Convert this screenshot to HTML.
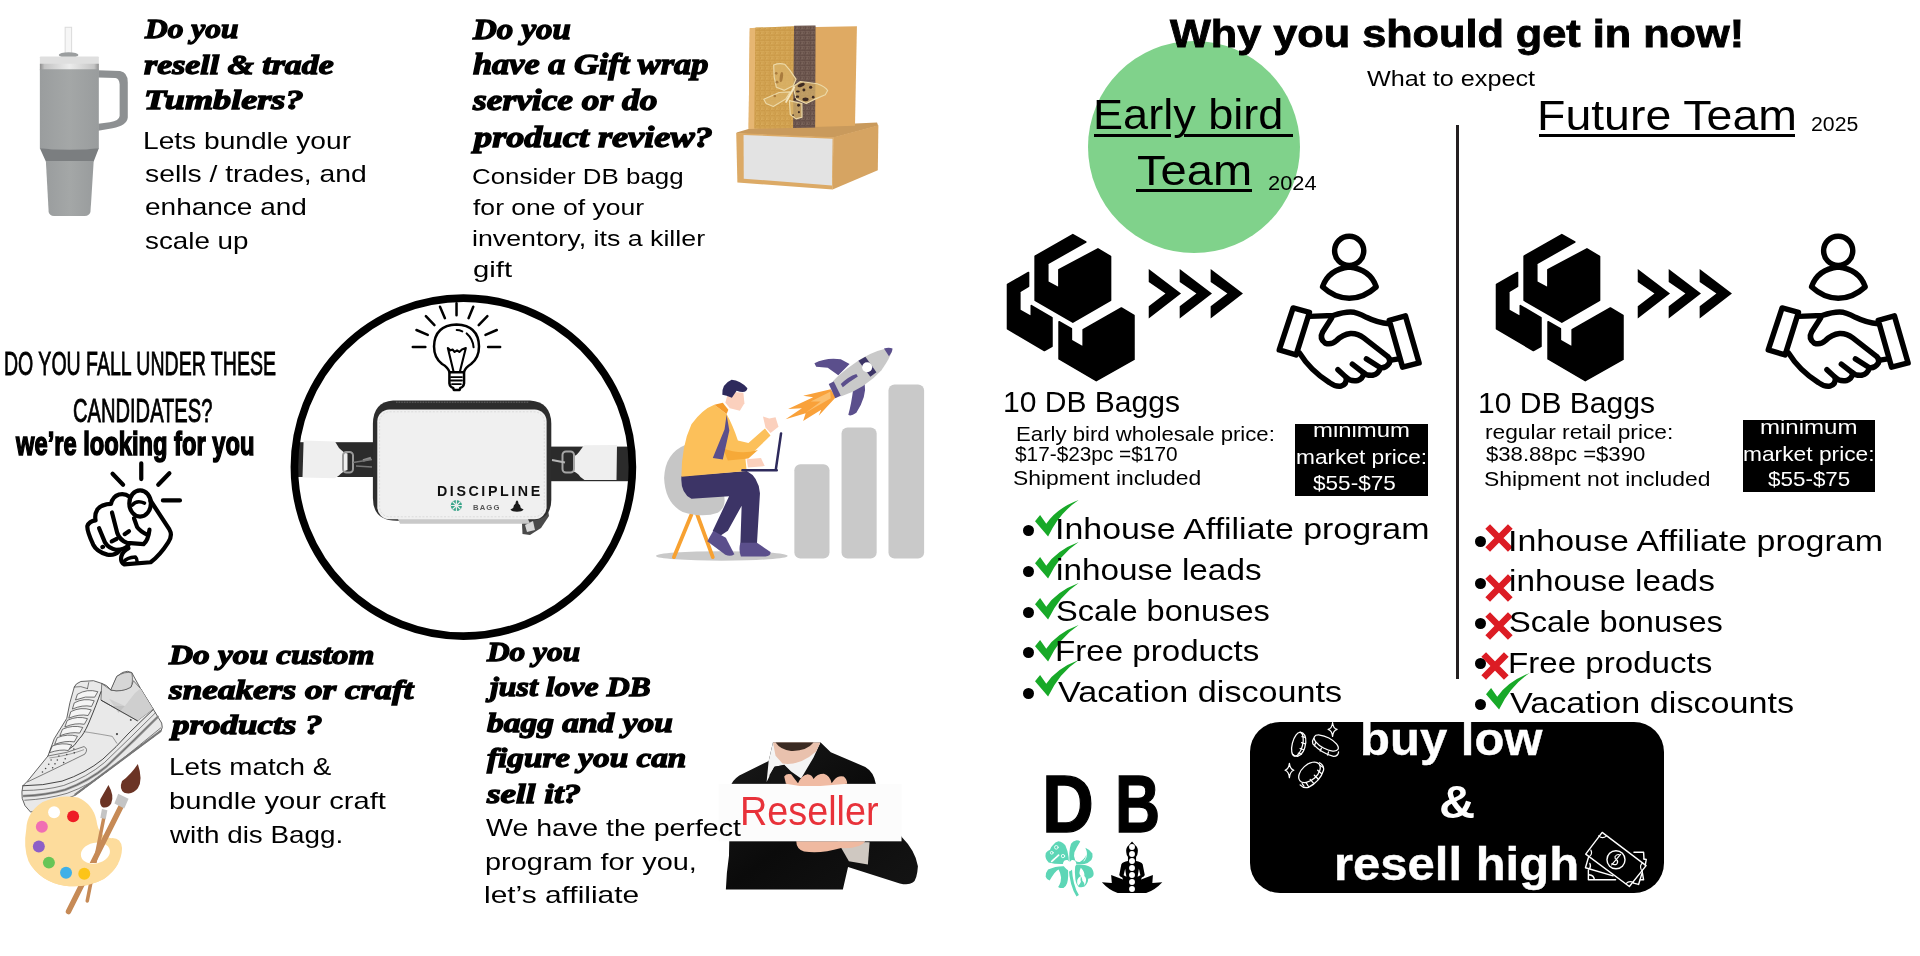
<!DOCTYPE html>
<html lang="en">
<head>
<meta charset="utf-8">
<title>DB Bagg – Why you should get in now</title>
<meta name="viewport" content="width=1920">
<style>
*{box-sizing:border-box}
html,body{margin:0;padding:0;background:#fff}
body{width:1920px;height:956px;overflow:hidden}
#page{will-change:transform;position:relative;width:1920px;height:956px;overflow:hidden;background:#fff;color:#000;font-family:"Liberation Sans",sans-serif}
h1,h2,h3,p,ul,li,figure{margin:0;padding:0;font-weight:inherit;font-size:inherit;list-style:none}
.t{position:absolute;display:block;white-space:pre;line-height:1;transform-origin:0 0}
.s{font-family:"Liberation Sans",sans-serif;font-weight:400}
.b{font-family:"Liberation Sans",sans-serif;font-weight:700}
.f{font-family:"Liberation Serif",serif;font-weight:700;font-style:italic}
.a{position:absolute;display:block}
svg{position:absolute;display:block;overflow:visible}
</style>
</head>
<body>
<main id="page">
<section class="left" aria-label="Candidates">
<article><svg style="left:30px;top:20px;width:110px;height:205px" viewBox="0 0 513 956" role="img" aria-label="tumbler">
<defs><linearGradient id="tg" x1="0" x2="1"><stop offset="0" stop-color="#9a9d9e"/><stop offset=".5" stop-color="#a4a7a7"/><stop offset="1" stop-color="#999c9d"/></linearGradient>
<linearGradient id="tl" x1="0" x2="1"><stop offset="0" stop-color="#8e8e8e"/><stop offset=".08" stop-color="#c4c4c4"/><stop offset=".5" stop-color="#ececec"/><stop offset=".92" stop-color="#c4c4c4"/><stop offset="1" stop-color="#8e8e8e"/></linearGradient></defs>
<rect x="164" y="34" width="30" height="130" fill="#f6f6f6" stroke="#dcdcdc" stroke-width="5"/>
<path d="M318 234 L420 238 Q456 244 456 290 V455 Q452 492 385 505 L318 516 V484 L372 477 Q416 470 418 448 V300 Q416 272 398 270 L318 268 Z" fill="#8d9092"/>
<ellipse cx="180" cy="163" rx="46" ry="13" fill="#9b9e9f"/>
<rect x="46" y="170" width="275" height="40" rx="4" fill="#dfdfdf"/>
<rect x="46" y="204" width="275" height="30" fill="url(#tl)"/>
<path d="M46 230 H321 V600 Q183 614 46 600 Z" fill="url(#tg)"/>
<path d="M46 598 Q183 612 321 598 L297 660 H74 Z" fill="#7b7e80"/>
<path d="M74 658 H297 L282 895 Q278 912 255 914 H112 Q90 912 87 895 Z" fill="url(#tg)"/>
</svg>
<h2 class="g g-h1"><span class="t f" style="left:145.12px;top:15.25px;font-size:28px;transform:scaleX(1.1235);-webkit-text-stroke:1.3px #000;">Do you</span><span class="t f" style="left:144.21px;top:50.85px;font-size:28px;transform:scaleX(1.2075);-webkit-text-stroke:1.3px #000;">resell &amp; trade</span><span class="t f" style="left:143.71px;top:85.85px;font-size:28px;transform:scaleX(1.2927);-webkit-text-stroke:1.3px #000;">Tumblers?</span></h2><p class="g g-p1"><span class="t s" style="left:143.33px;top:129px;font-size:24px;transform:scaleX(1.1723);">Lets bundle your</span><span class="t s" style="left:144.5px;top:162px;font-size:24px;transform:scaleX(1.1791);">sells / trades, and</span><span class="t s" style="left:144.5px;top:195.3px;font-size:24px;transform:scaleX(1.1667);">enhance and</span><span class="t s" style="left:144.5px;top:228.75px;font-size:24px;transform:scaleX(1.1573);">scale up</span></p></article>
<article><svg style="left:725px;top:15px;width:165px;height:185px" viewBox="0 0 853 956" role="img" aria-label="gift boxes">
<defs>
<pattern id="gp" width="26" height="26" patternUnits="userSpaceOnUse"><path d="M0 6 H20 V20 H6 V12 H14 M0 26 L13 13" fill="none" stroke="#e0b565" stroke-width="2.4"/></pattern>
<pattern id="bp" width="26" height="26" patternUnits="userSpaceOnUse"><path d="M0 6 H20 V20 H6 V12 H14 M0 26 L13 13" fill="none" stroke="#8d766c" stroke-width="2.4"/></pattern>
</defs>
<path d="M60 607 L130 586 L786 555 L792 572 L560 634 L60 613 Z" fill="#c99a5c"/>
<path d="M560 632 L793 570 L790 802 L556 902 Z" fill="#d6a462"/>
<path d="M58 610 L562 632 L557 902 L64 866 Z" fill="#dcaa66"/>
<path d="M96 620 L556 640 L553 881 L97 846 Z" fill="#e3e3e3"/>
<path d="M128 68 L682 58 L672 572 L122 588 Z" fill="#dfaa63"/>
<path d="M128 68 L157 66 L152 586 L122 588 Z" fill="#e6b672"/>
<path d="M157 65 L357 58 L352 584 L152 587 Z" fill="#cb9a48"/>
<path d="M157 65 L357 58 L352 584 L152 587 Z" fill="url(#gp)"/>
<path d="M357 56 L468 54 L466 581 L352 584 Z" fill="#614b44"/>
<path d="M357 56 L468 54 L466 581 L352 584 Z" fill="url(#bp)"/>
<g transform="translate(155.1,206.8) scale(0.3785)">
<g fill="#d9b36a" fill-opacity=".75" stroke="#ecd9a8" stroke-width="16" stroke-linejoin="round">
<path d="M255 135 Q330 105 405 125 L475 205 L560 330 L522 420 L400 482 L292 440 L262 300 Z"/>
<path d="M120 605 L330 512 L482 502 L420 602 L250 702 L152 662 Z"/>
<path d="M520 432 L620 362 L700 372 L850 392 Q960 430 992 485 L960 542 L820 602 L700 662 L562 602 Z"/>
<path d="M470 622 L640 662 L642 850 L560 872 L482 812 Z"/>
</g>
<g fill="#3d2a22"><ellipse cx="630" cy="410" rx="52" ry="24" transform="rotate(-20 630 410)"/><circle cx="760" cy="440" r="22"/><circle cx="668" cy="478" r="20"/><ellipse cx="585" cy="498" rx="26" ry="14"/><ellipse cx="580" cy="568" rx="24" ry="16"/><ellipse cx="690" cy="605" rx="42" ry="26"/><circle cx="795" cy="575" r="18"/><circle cx="545" cy="605" r="16"/><circle cx="595" cy="685" r="20"/><circle cx="600" cy="780" r="14"/><circle cx="520" cy="820" r="12"/></g>
<g fill="#8a5a24" fill-opacity=".6"><ellipse cx="360" cy="300" rx="22" ry="70" transform="rotate(8 360 300)"/><circle cx="300" cy="370" r="20"/><circle cx="290" cy="250" r="18"/><circle cx="270" cy="560" r="18"/></g>
<path d="M535 440 L425 640" stroke="#f4e6c0" stroke-width="26" stroke-linecap="round" fill="none"/>
</g>
</svg>
<h2 class="g g-h2"><span class="t f" style="left:473.15px;top:15.6px;font-size:28.6px;transform:scaleX(1.1512);-webkit-text-stroke:1.3px #000;">Do you</span><span class="t f" style="left:473.2px;top:51.35px;font-size:28.6px;transform:scaleX(1.1995);-webkit-text-stroke:1.3px #000;">have a Gift wrap</span><span class="t f" style="left:473.24px;top:87.35px;font-size:28.6px;transform:scaleX(1.2351);-webkit-text-stroke:1.3px #000;">service or do</span><span class="t f" style="left:474.3px;top:123.85px;font-size:28.6px;transform:scaleX(1.2682);-webkit-text-stroke:1.3px #000;">product review?</span></h2><p class="g g-p2"><span class="t s" style="left:471.85px;top:166.25px;font-size:22.5px;transform:scaleX(1.1511);">Consider DB bagg</span><span class="t s" style="left:473px;top:197.2px;font-size:22.5px;transform:scaleX(1.1793);">for one of your</span><span class="t s" style="left:471.81px;top:227.8px;font-size:22.5px;transform:scaleX(1.1897);">inventory, its a killer</span><span class="t s" style="left:473px;top:259.4px;font-size:22.5px;transform:scaleX(1.3000);">gift</span></p></article>
<header><h2 class="g g-c1"><span class="t s" style="left:4.43px;top:345.55px;font-size:34px;transform:scaleX(0.5742);-webkit-text-stroke:0.9px #000;">DO YOU FALL UNDER THESE</span><span class="t s" style="left:73.41px;top:393.05px;font-size:34px;transform:scaleX(0.5919);-webkit-text-stroke:0.9px #000;">CANDIDATES?</span></h2><p class="g g-c2"><span class="t b" style="left:16.2px;top:426.2px;font-size:34px;transform:scaleX(0.6974);-webkit-text-stroke:1.6px #000;">we’re looking for you</span></p><svg style="left:78px;top:458px;width:112px;height:112px" viewBox="0 0 956 956" role="img" aria-label="pointing at you"><g fill="none" stroke="#000" stroke-width="36" stroke-linecap="round" stroke-linejoin="round">
<path d="M540 45 V180 M295 135 L385 228 M780 130 L685 228 M725 362 H870"/>
<ellipse cx="530" cy="388" rx="92" ry="112"/>
<path d="M463 402 Q500 355 568 385" stroke-width="30"/>
<path d="M620 365 L780 610 Q810 660 770 720 Q700 830 620 890 L395 908 Q360 890 370 840 Q385 790 430 770"/>
<path d="M438 330 Q400 300 350 312 Q295 330 282 392 Q200 395 165 440 Q140 480 150 532 Q95 540 80 580 Q75 620 130 740 Q160 800 250 825 Q310 835 350 795"/>
<path d="M290 465 L335 640 Q355 700 420 725 L560 735 Q600 700 610 612"/>
<path d="M180 600 L230 720 Q260 770 330 785 Q400 780 430 745"/>
<path d="M478 515 L505 590 Q530 625 590 655"/>
<path d="M288 712 L330 690 M398 650 L435 625 M208 760 L214 758"/>
<path d="M392 885 Q415 850 490 845 Q505 860 505 885" stroke-width="30"/>
</g></svg>
</header>
<figure><svg style="left:285px;top:290px;width:360px;height:355px" viewBox="285 290 360 355" role="img" aria-label="Discipline bagg">
<defs><clipPath id="cc"><circle cx="463.4" cy="467.1" r="170"/></clipPath></defs>
<g clip-path="url(#cc)">
<rect x="288" y="442.2" width="90" height="34.8" fill="#2b2b2b"/>
<rect x="548" y="446.6" width="92" height="34.6" fill="#2b2b2b"/>
<path d="M303.6 440.4 L335 441.5 L339 448 Q344 453 347.5 453.5 L347.5 470 Q343 471 339 475.5 L335 478.2 L302.5 477.6 Z" fill="#efefef"/>
<path d="M617 445 L584 445.2 L580.5 450 Q577 455.5 573 456.5 L573 471.5 Q577 472 580.5 477 L584.5 480 L616.5 480 Z" fill="#efefef"/>
<path d="M363 460.5 L371 458" stroke="#8a8a8a" stroke-width="2.4" fill="none"/>
<rect x="343" y="452" width="10" height="20.5" rx="3.5" fill="none" stroke="#9a9a9a" stroke-width="2"/>
<path d="M353 462.5 L372 459.5 M356 466 L372 467" stroke="#777" stroke-width="1.6" fill="none"/>
<rect x="562.5" y="451.5" width="11.5" height="21" rx="3.5" fill="none" stroke="#a5a5a5" stroke-width="2"/>
<path d="M552 460 L565 462.5" stroke="#b5b5b5" stroke-width="2" fill="none"/>
</g>
<path d="M527 513 L548 510 L549 516 L541 528 L530 535 L522.5 534 L522 524 Z" fill="#4a4a4a"/>
<path d="M525 525 L533 521 L535 530 L527 532 Z" fill="#d9d9d9"/>
<path d="M393 400.4 H530 Q551.3 402 551.3 424 V500 Q551.3 520.8 528 520.8 H397 Q372.9 520.8 372.9 498 V424 Q372.9 402 393 400.4 Z" fill="#2d2d2d"/>
<path d="M398 519 H528 L530 523.8 H400 Z" fill="#c9c9c9"/>
<rect x="377.3" y="409.6" width="169.3" height="109.6" rx="12" fill="#f0f0f0"/>
<rect x="379.6" y="411.8" width="164.7" height="105" rx="10" fill="none" stroke="#d2d2d2" stroke-width="0.7" stroke-dasharray="2 1.6"/>
<path d="M396 402.2 H529" stroke="#777" stroke-width="1" stroke-dasharray="0.8 0.8" fill="none"/>
<g fill="#3aa58a"><circle cx="456.4" cy="505.5" r="5.6"/></g>
<g stroke="#ededed" stroke-width="1.1" fill="none"><path d="M452.5 501.5 L460.5 509.5 M460.5 501.5 L452.5 509.5 M456.4 500 V511 M451 505.5 H462"/></g>
<path d="M517 500.3 Q518.6 501.5 518.4 503.5 Q520.5 504.5 520.8 508 L523.6 509.6 Q522 511.8 517 511.8 Q512 511.8 510.4 509.6 L513.2 508 Q513.5 504.5 515.6 503.5 Q515.4 501.5 517 500.3 Z" fill="#1b1b1b"/>
<circle cx="463.4" cy="467.1" r="169" fill="none" stroke="#000" stroke-width="7.6"/>
</svg>
<p class="g g-disc"><span class="t b" style="left:437.4px;top:483.8px;font-size:14.4px;transform:scaleX(0.9904);color:#111;letter-spacing:2.6px;">DISCIPLINE</span></p><p class="g g-bagg"><span class="t b" style="left:472.9px;top:504.2px;font-size:8px;transform:scaleX(0.9571);color:#555;letter-spacing:1.2px;">BAGG</span></p><svg style="left:406px;top:296px;width:100px;height:100px" viewBox="0 0 956 956" role="img" aria-label="idea"><g fill="none" stroke="#000" stroke-width="24" stroke-linecap="round" stroke-linejoin="round">
<path d="M65 487 H185 M100 325 L208 372 M190 192 L272 278 M325 103 L372 212 M483 70 V185 M643 103 L598 212 M778 192 L695 278 M868 325 L760 372 M785 487 H900"/>
<path d="M418 730 Q400 680 345 650 Q268 590 268 482 Q272 280 483 272 Q694 280 698 482 Q698 590 622 650 Q568 682 552 730"/>
<path d="M415 730 H555 V835 Q550 870 520 878 L512 898 H458 L450 878 Q420 870 415 835 Z"/>
<path d="M430 775 H535 M430 808 H535 M440 842 H525" stroke-width="18"/>
<path d="M455 725 L400 497 L425 520 L445 512 L465 535 L488 520 L510 535 L535 512 L572 497 L515 725" stroke-width="20"/>
<path d="M485 325 Q510 325 538 338 M580 358 Q640 410 646 490" stroke-width="20"/>
</g></svg>
</figure>
<svg style="left:640px;top:330px;width:320px;height:240px" viewBox="0 0 1275 956" role="img" aria-label="growth illustration">
<g fill="#c9c9c9"><rect x="615" y="535" width="140" height="375" rx="24"/><rect x="803" y="388" width="140" height="522" rx="24"/><rect x="990" y="217" width="142" height="693" rx="24"/>
<ellipse cx="326" cy="900" rx="262" ry="19"/></g>
<path d="M205 735 L135 905 M228 735 L290 905" stroke="#f7a131" stroke-width="15" stroke-linecap="round" fill="none"/>
<path d="M180 458 Q100 490 96 590 Q100 690 170 725 Q250 750 310 728 Q345 705 335 660 L180 600 Z" fill="#c6c6c6"/>
<path d="M165 582 L425 562 Q472 585 478 650 L466 852 H400 L405 700 L350 800 L302 832 L290 800 L355 662 L205 672 Q160 650 165 582 Z" fill="#3c3466"/>
<path d="M292 800 L342 828 L376 893 Q360 905 340 895 L268 842 Z" fill="#5b4f8c"/>
<path d="M400 848 H466 L520 884 Q522 902 500 902 H402 Q392 875 400 848 Z" fill="#5b4f8c"/>
<path d="M296 298 Q250 315 205 375 Q165 460 165 585 L425 562 L420 512 Q450 490 520 420 L498 392 L432 450 L390 440 Q370 380 345 335 Z" fill="#fcc05a"/>
<path d="M330 470 Q400 500 470 478 L432 512 L350 520 Z" fill="#f6a938"/>
<path d="M296 298 L345 335 L352 318 L330 290 Z" fill="#f49b2c"/>
<path d="M345 338 L356 400 L330 516 L290 510 L337 395 Z" fill="#5b4f8c"/>
<path d="M352 245 L412 250 L416 292 L398 322 L358 312 L340 290 Z" fill="#fbd0bd"/>
<path d="M328 258 Q325 215 365 198 Q400 200 428 232 Q425 255 385 242 L366 270 L345 262 Z" fill="#2e2a5c"/>
<path d="M490 345 L515 352 L540 348 L552 385 L520 410 L500 388 Z" fill="#fbd0bd"/>
<path d="M425 515 L482 510 L497 542 L430 548 Z" fill="#fbd0bd"/>
<path d="M562 412 L541 557 M408 559 H545" stroke="#2e2a5c" stroke-width="10" stroke-linecap="round" fill="none"/>
<path d="M760 236 L650 262 L690 268 L590 315 L645 312 L580 355 L660 332 L650 362 L722 318 L712 342 L780 268 Z" fill="#f9a13a"/>
<path d="M758 246 L680 285 L720 285 L660 330 L760 272 Z" fill="#fbbf6e"/>
<path d="M695 132 Q740 108 800 116 L835 135 L790 180 L748 150 L702 146 Z" fill="#5b4f8c"/>
<path d="M895 212 Q905 262 862 330 Q840 345 830 338 Q842 295 850 232 Z" fill="#5b4f8c"/>
<path d="M758 222 Q770 188 880 115 Q950 75 1000 72 Q1012 90 962 160 Q900 230 800 265 Z" fill="#c9c9c9"/>
<path d="M972 74 Q992 68 1006 74 Q1006 88 992 104 Z" fill="#5b4f8c"/>
<path d="M870 122 L898 106 L942 168 L918 186 Z" fill="#3c3466"/>
<circle cx="905" cy="148" r="20" fill="#fff"/>
<path d="M800 215 Q830 185 862 175 L868 185 Q835 205 808 228 Z" fill="#5b4f8c"/>
<path d="M752 215 L772 205 L800 262 L778 272 Z" fill="#5b4f8c"/>
</svg>

<article><svg style="left:15px;top:665px;width:155px;height:150px" viewBox="0 0 988 956" role="img" aria-label="sneaker">
<g stroke="#3a3a3a" stroke-width="5" stroke-linejoin="round" stroke-linecap="round">
<path d="M715 40 Q690 38 650 72 L612 160 Q585 125 555 118 L500 100 L420 105 Q385 118 378 140 L350 240 L330 340 L250 470 L210 580 L80 740 L50 770 Q40 810 46 850 Q55 900 100 938 L380 832 L930 422 Q945 400 935 370 L880 280 L800 150 L745 50 Z" fill="#e9e9e9"/>
<path d="M555 120 L612 160 Q680 175 740 140 L755 100 L800 150 L880 280 L780 355 L550 225 Z" fill="#dedede" stroke-width="4"/>
<path d="M612 160 Q680 175 738 142 Q755 110 745 50 Q700 38 650 72 Z" fill="#d6d6d6" stroke-width="4"/>
<path d="M600 215 L700 262 L765 178 L800 150 L880 280 L780 355 L650 290 Z" fill="#cfcfcf" stroke="none"/>
<path d="M630 262 L700 262 L660 305 Z" fill="#c2c2c2" stroke="none"/>
<path d="M550 225 L780 355" fill="none" stroke-width="6"/>
<path d="M50 770 Q180 770 300 740 Q450 690 560 600 Q650 520 720 440 L880 285" fill="none" stroke-width="6"/>
<path d="M50 800 Q190 800 310 768 Q460 715 570 622 L740 458 L895 305" fill="none" stroke-width="4"/>
<path d="M55 835 Q200 830 320 795 Q470 740 585 645 L760 478 L910 330" fill="none" stroke="#9a9a9a" stroke-width="16"/>
<path d="M55 835 Q200 830 320 795 Q470 740 585 645 L760 478 L910 330" fill="none" stroke-width="3.5"/>
<path d="M62 862 Q205 855 332 818 Q480 765 600 668 L930 400" fill="none" stroke-width="4"/>
<path d="M385 825 L932 418" fill="none" stroke="#777" stroke-width="14" stroke-dasharray="4 7"/>
<path d="M210 580 Q330 565 440 520 Q470 535 445 568 Q300 640 80 745" fill="none" stroke-width="4"/>
<path d="M222 592 Q335 578 438 540" fill="none" stroke-width="3" stroke-dasharray="6 5"/>
<path d="M440 425 Q540 440 620 455 L650 500" fill="none" stroke-width="3" stroke-dasharray="7 5"/>
<path d="M548 170 Q520 250 470 370 Q440 440 410 470 Q380 520 340 540" fill="none" stroke-width="6"/>
<path d="M470 112 L462 150 M378 140 Q420 130 462 150" fill="none" stroke-width="4"/>
<g fill="#f4f4f4" stroke-width="4.5">
<path d="M400 185 Q460 150 528 170 L508 205 Q450 195 388 222 Z"/>
<path d="M380 240 Q440 208 505 228 L488 264 Q430 252 368 280 Z"/>
<path d="M358 296 Q420 265 486 286 L466 322 Q410 310 345 338 Z"/>
<path d="M335 352 Q398 322 462 342 L442 378 Q386 366 320 394 Z"/>
<path d="M305 408 Q368 380 432 398 L412 434 Q356 424 288 450 Z"/>
<path d="M272 462 Q335 436 398 454 L378 490 Q322 480 255 505 Z"/>
<path d="M240 515 Q300 492 362 510 L340 545 Q290 535 222 558 Z"/>
</g>
</g>
<g fill="#444"><circle cx="375" cy="535" r="5"/><circle cx="378" cy="560" r="5"/><circle cx="330" cy="570" r="5"/><circle cx="320" cy="598" r="5"/><circle cx="280" cy="580" r="4.5"/><circle cx="270" cy="605" r="5"/><circle cx="255" cy="630" r="5"/><circle cx="230" cy="605" r="4.5"/><circle cx="215" cy="632" r="5"/><circle cx="240" cy="655" r="5"/><circle cx="195" cy="660" r="5"/><circle cx="175" cy="682" r="5"/><circle cx="310" cy="622" r="5"/><circle cx="650" cy="440" r="7"/><circle cx="738" cy="350" r="6"/></g>
</svg>
<svg style="left:10px;top:660px;width:170px;height:260px" viewBox="0 0 625 956" role="img" aria-label="sneaker and paint palette">
<path d="M60 620 Q62 560 120 522 Q185 492 250 506 Q305 530 318 590 Q325 650 372 655 Q408 652 412 692 Q410 760 345 805 Q280 840 200 830 Q110 815 68 740 Q48 690 60 620 Z" fill="#fddc9c"/>
<ellipse cx="314" cy="710" rx="54" ry="38" fill="#fff" transform="rotate(-12 314 710)"/>
<circle cx="162" cy="560" r="22" fill="#fff"/><circle cx="232" cy="575" r="22" fill="#ee1c25"/><circle cx="117" cy="613" r="22" fill="#f06eb3"/><circle cx="106" cy="686" r="22" fill="#8e5fc7"/><circle cx="143" cy="745" r="22" fill="#67c556"/><circle cx="206" cy="782" r="22" fill="#3fb0e8"/><circle cx="273" cy="786" r="22" fill="#fcc419"/>
<path d="M345 580 L284 886" stroke="#c68a56" stroke-width="13" stroke-linecap="round" fill="none"/>
<path d="M338 548 L358 552 L352 585 L332 581 Z" fill="#c4c4c4"/>
<path d="M362 460 Q385 500 372 528 Q362 545 342 542 Q328 535 332 512 Q345 490 362 460 Z" fill="#6b3425"/>
<path d="M410 535 L215 925" stroke="#c68a56" stroke-width="20" stroke-linecap="round" fill="none"/>
<path d="M398 492 L436 510 L420 546 L384 528 Z" fill="#c4c4c4"/>
<path d="M470 382 Q490 440 470 472 Q450 498 420 488 Q400 475 412 445 Q445 420 470 382 Z" fill="#6b3425"/>
<defs><clipPath id="lowpal"><rect x="0" y="746" width="625" height="100"/></clipPath></defs><g clip-path="url(#lowpal)"><path d="M60 620 Q62 560 120 522 Q185 492 250 506 Q305 530 318 590 Q325 650 372 655 Q408 652 412 692 Q410 760 345 805 Q280 840 200 830 Q110 815 68 740 Q48 690 60 620 Z" fill="#fddc9c"/>
<ellipse cx="314" cy="710" rx="54" ry="38" fill="#fff" transform="rotate(-12 314 710)"/>
<circle cx="162" cy="560" r="22" fill="#fff"/><circle cx="232" cy="575" r="22" fill="#ee1c25"/><circle cx="117" cy="613" r="22" fill="#f06eb3"/><circle cx="106" cy="686" r="22" fill="#8e5fc7"/><circle cx="143" cy="745" r="22" fill="#67c556"/><circle cx="206" cy="782" r="22" fill="#3fb0e8"/><circle cx="273" cy="786" r="22" fill="#fcc419"/>
</g>
</svg>
<h2 class="g g-h3"><span class="t f" style="left:169.29px;top:640.85px;font-size:28px;transform:scaleX(1.1891);-webkit-text-stroke:1.3px #000;">Do you custom</span><span class="t f" style="left:169.36px;top:675.95px;font-size:28px;transform:scaleX(1.2569);-webkit-text-stroke:1.3px #000;">sneakers or craft</span><span class="t f" style="left:171.54px;top:711.05px;font-size:28px;transform:scaleX(1.2476);-webkit-text-stroke:1.3px #000;">products ?</span></h2><p class="g g-p3"><span class="t s" style="left:168.84px;top:755px;font-size:24px;transform:scaleX(1.1583);">Lets match &amp;</span><span class="t s" style="left:168.79px;top:789.4px;font-size:24px;transform:scaleX(1.2135);">bundle your craft</span><span class="t s" style="left:170px;top:823.3px;font-size:24px;transform:scaleX(1.1588);">with dis Bagg.</span></p></article>
<article><svg style="left:710px;top:735px;width:220px;height:165px" viewBox="0 0 1275 956" role="img" aria-label="reseller sign">
<defs><linearGradient id="sg" x1="0" x2="1" y1="0" y2="1"><stop offset="0" stop-color="#1a1a1a"/><stop offset=".5" stop-color="#0b0b0b"/><stop offset="1" stop-color="#141414"/></linearGradient></defs>
<path d="M365 42 H640 L700 100 L900 185 Q950 215 960 280 L1110 590 Q1190 670 1205 760 Q1200 840 1175 855 Q1150 872 1100 860 L800 765 L770 895 H92 Q95 800 110 700 L118 300 Q130 262 170 235 L340 150 Z" fill="url(#sg)"/>
<path d="M365 44 H640 L600 130 L528 252 L470 212 L430 172 L372 186 L328 272 L340 150 Z" fill="#f4f4f4"/>
<path d="M365 44 H640 L615 95 Q520 180 420 165 L380 120 Z" fill="#e9c1ad"/>
<path d="M380 44 H600 Q560 95 470 92 Q410 88 380 44 Z" fill="#3a2a22"/>
<path d="M345 232 L375 182 L430 175 L476 226 L450 282 H350 Z" fill="#141414"/>
<path d="M740 618 L925 622 L915 750 L805 732 Z" fill="#cfc8c1"/>
<path d="M500 615 H900 Q870 660 760 655 Q640 690 545 675 Q500 660 500 615 Z" fill="#efb9a0"/>
<rect x="50" y="283" width="1060" height="333" fill="#fcfcfc"/>
<path d="M430 240 Q445 220 470 228 L510 280 Q530 235 565 228 Q590 230 600 255 Q620 225 660 225 Q695 235 705 280 L718 262 Q740 232 775 240 Q795 255 795 283 L640 296 H520 L440 283 Z" fill="#f0bba3"/>
</svg>
<p class="g g-res"><span class="t s" style="left:740.44px;top:791.1px;font-size:40.7px;transform:scaleX(0.9286);color:#e8323a;">Reseller</span></p><h2 class="g g-h4"><span class="t f" style="left:487.42px;top:637.75px;font-size:28px;transform:scaleX(1.1188);-webkit-text-stroke:1.3px #000;">Do you</span><span class="t f" style="left:489.68px;top:673.15px;font-size:28px;transform:scaleX(1.1361);-webkit-text-stroke:1.3px #000;">just love DB</span><span class="t f" style="left:487.19px;top:708.95px;font-size:28px;transform:scaleX(1.1943);-webkit-text-stroke:1.3px #000;">bagg and you</span><span class="t f" style="left:487.19px;top:744.35px;font-size:28px;transform:scaleX(1.1864);-webkit-text-stroke:1.3px #000;">figure you can</span><span class="t f" style="left:487.25px;top:779.85px;font-size:28px;transform:scaleX(1.2468);-webkit-text-stroke:1.3px #000;">sell it?</span></h2><p class="g g-p4"><span class="t s" style="left:485.7px;top:816.4px;font-size:24px;transform:scaleX(1.1893);">We have the perfect</span><span class="t s" style="left:484.5px;top:850px;font-size:24px;transform:scaleX(1.2029);">program for you,</span><span class="t s" style="left:484.45px;top:883px;font-size:24px;transform:scaleX(1.2463);">let’s affiliate</span></p></article>
</section>
<section class="right" aria-label="Why you should get in now">
<div class="a" style="left:1088px;top:40.5px;width:212px;height:212px;border-radius:50%;background:#80d28b"></div>

<h1 class="g g-title"><span class="t b" style="left:1169.84px;top:14.45px;font-size:39.5px;transform:scaleX(1.0946);-webkit-text-stroke:0.9px #000;">Why you should get in now!</span></h1><p class="g g-sub"><span class="t s" style="left:1367px;top:68.25px;font-size:22.5px;transform:scaleX(1.1200);">What to expect</span></p>
<div class="a" style="left:1456.2px;top:125px;width:2.6px;height:553.75px;background:#231f20"></div>
<div class="a" style="left:1094px;top:133.75px;width:76.6px;height:3.3px;background:#000"></div>
<div class="a" style="left:1184.2px;top:133.75px;width:108.8px;height:3.3px;background:#000"></div>
<div class="a" style="left:1135.5px;top:188.75px;width:116.5px;height:3.3px;background:#000"></div>
<div class="a" style="left:1539px;top:134px;width:256px;height:3.3px;background:#000"></div>

<article class="early"><h3 class="g g-eb"><span class="t s" style="left:1092.51px;top:93.75px;font-size:41.8px;transform:scaleX(1.0785);">Early bird</span><span class="t s" style="left:1137px;top:150px;font-size:41.8px;transform:scaleX(1.1262);">Team</span></h3><p class="g g-y24"><span class="t s" style="left:1267.69px;top:173px;font-size:20.7px;transform:scaleX(1.0556);">2024</span></p><svg style="left:1000px;top:228px;width:144px;height:160px" viewBox="0 0 860 956" role="img" aria-label="boxes"><g fill="#000" stroke="#000" stroke-width="10" stroke-linejoin="round">
<path d="M435 40 L512 84 L285 212 L285 322 L352 358 L352 250 L585 125 L660 170 L660 432 L435 562 L210 432 L210 168 Z"/>
<path d="M170 266 L170 348 L118 380 L118 492 L187 530 L187 464 L310 536 L310 706 L265 732 L45 602 L45 338 Z"/>
<path d="M353 560 L426 602 L426 672 L497 712 L497 608 L725 478 L800 522 L800 785 L575 912 L353 782 Z"/>
</g></svg><svg style="left:1140px;top:228px;width:144px;height:160px" viewBox="0 0 860 956" role="img" aria-label="arrows"><g fill="#000"><path d="M52 245 L245 392 L52 540 L52 468 L152 392 L52 322 Z"/><path d="M237 245 L430 392 L237 540 L237 468 L337 392 L237 322 Z"/><path d="M422 245 L615 392 L422 540 L422 468 L522 392 L422 322 Z"/></g></svg><svg style="left:1268px;top:228px;width:168px;height:168px" viewBox="0 0 956 956" role="img" aria-label="partner handshake"><g fill="none" stroke="#000" stroke-width="31" stroke-linejoin="round" stroke-linecap="round">
<circle cx="462" cy="130" r="83"/>
<path d="M310 335 Q345 235 462 222 Q582 235 616 335 Q545 400 462 400 Q380 400 310 335 Z"/>
<path d="M143 455 L236 480 L160 722 L64 694 Z"/>
<path d="M690 525 L782 500 L860 768 L766 792 Z"/>
<path d="M236 503 L370 498 Q430 478 470 478 Q505 478 560 508 Q625 540 690 545"/>
<path d="M362 512 L312 590 Q290 630 325 655 Q360 668 390 640 Q425 605 470 600 Q510 598 545 625 L680 730 Q700 750 690 770 Q670 800 640 795 Q630 830 595 838 Q560 840 545 825 Q540 860 510 868 Q470 875 445 850 Q450 890 415 900 Q385 905 350 880 Q240 810 180 712"/>
<path d="M398 806 L445 850"/>
<path d="M480 775 L545 825"/>
<path d="M560 745 L640 795"/>
<path d="M700 752 L745 745"/>
</g></svg><p class="g g-l10"><span class="t s" style="left:1003.47px;top:387.25px;font-size:29.6px;transform:scaleX(1.0145);">10 DB Baggs</span></p><p class="g g-lp"><span class="t s" style="left:1015.88px;top:424.75px;font-size:19.8px;transform:scaleX(1.1212);">Early bird wholesale price:</span><span class="t s" style="left:1015px;top:445.25px;font-size:19.8px;transform:scaleX(1.0519);">$17-$23pc =$170</span><span class="t s" style="left:1012.59px;top:469px;font-size:19.8px;transform:scaleX(1.1568);">Shipment included</span></p><div class="a" style="left:1295px;top:423.75px;width:132.5px;height:71.75px;background:#000"></div><p class="g g-lb"><span class="t s" style="left:1312.58px;top:420px;font-size:20.4px;transform:scaleX(1.1728);color:#fff;">minimum</span><span class="t s" style="left:1295.89px;top:446.75px;font-size:20.4px;transform:scaleX(1.1121);color:#fff;">market price:</span><span class="t s" style="left:1313px;top:472.5px;font-size:20.4px;transform:scaleX(1.1067);color:#fff;">$55-$75</span></p><div class="marks" aria-hidden="true"><span class="a dot" style="left:1022.60px;top:525.10px;width:11px;height:11px;border-radius:50%;background:#000"></span><span class="a dot" style="left:1022.60px;top:565.80px;width:11px;height:11px;border-radius:50%;background:#000"></span><span class="a dot" style="left:1022.60px;top:607.00px;width:11px;height:11px;border-radius:50%;background:#000"></span><span class="a dot" style="left:1022.60px;top:647.00px;width:11px;height:11px;border-radius:50%;background:#000"></span><span class="a dot" style="left:1022.60px;top:687.80px;width:11px;height:11px;border-radius:50%;background:#000"></span><svg class="ck" style="left:1035.4px;top:500.2px;width:43.7px;height:36.6px" viewBox="390 100 835 700"><path d="M390 505 L487 385 L605 555 Q800 260 1225 100 Q850 350 640 800 Z" fill="#18a928"/></svg><svg class="ck" style="left:1035.4px;top:541.5px;width:43.7px;height:36.6px" viewBox="390 100 835 700"><path d="M390 505 L487 385 L605 555 Q800 260 1225 100 Q850 350 640 800 Z" fill="#18a928"/></svg><svg class="ck" style="left:1035.4px;top:583.2px;width:43.7px;height:36.6px" viewBox="390 100 835 700"><path d="M390 505 L487 385 L605 555 Q800 260 1225 100 Q850 350 640 800 Z" fill="#18a928"/></svg><svg class="ck" style="left:1035.4px;top:624.5px;width:43.7px;height:36.6px" viewBox="390 100 835 700"><path d="M390 505 L487 385 L605 555 Q800 260 1225 100 Q850 350 640 800 Z" fill="#18a928"/></svg><svg class="ck" style="left:1035.4px;top:660px;width:43.7px;height:36.6px" viewBox="390 100 835 700"><path d="M390 505 L487 385 L605 555 Q800 260 1225 100 Q850 350 640 800 Z" fill="#18a928"/></svg></div><div class="list"><ul class="g g-ll"><li class="t s" style="left:1055.19px;top:514.25px;font-size:29.3px;transform:scaleX(1.1573);">Inhouse Affiliate program</li><li class="t s" style="left:1056.36px;top:555px;font-size:29.3px;transform:scaleX(1.1369);">inhouse leads</li><li class="t s" style="left:1056.39px;top:596.25px;font-size:29.3px;transform:scaleX(1.1126);">Scale bonuses</li><li class="t s" style="left:1055.24px;top:636.25px;font-size:29.3px;transform:scaleX(1.1306);">Free products</li><li class="t s" style="left:1057.5px;top:677px;font-size:29.3px;transform:scaleX(1.1656);">Vacation discounts</li></ul></div></article>
<article class="future"><h3 class="g g-ft"><span class="t s" style="left:1536.67px;top:94.5px;font-size:41.8px;transform:scaleX(1.1114);">Future Team</span></h3><p class="g g-y25"><span class="t s" style="left:1810.72px;top:114.25px;font-size:20.7px;transform:scaleX(1.0278);">2025</span></p><svg style="left:1489px;top:228px;width:144px;height:160px" viewBox="0 0 860 956" role="img" aria-label="boxes"><g fill="#000" stroke="#000" stroke-width="10" stroke-linejoin="round">
<path d="M435 40 L512 84 L285 212 L285 322 L352 358 L352 250 L585 125 L660 170 L660 432 L435 562 L210 432 L210 168 Z"/>
<path d="M170 266 L170 348 L118 380 L118 492 L187 530 L187 464 L310 536 L310 706 L265 732 L45 602 L45 338 Z"/>
<path d="M353 560 L426 602 L426 672 L497 712 L497 608 L725 478 L800 522 L800 785 L575 912 L353 782 Z"/>
</g></svg><svg style="left:1629px;top:228px;width:144px;height:160px" viewBox="0 0 860 956" role="img" aria-label="arrows"><g fill="#000"><path d="M52 245 L245 392 L52 540 L52 468 L152 392 L52 322 Z"/><path d="M237 245 L430 392 L237 540 L237 468 L337 392 L237 322 Z"/><path d="M422 245 L615 392 L422 540 L422 468 L522 392 L422 322 Z"/></g></svg><svg style="left:1757px;top:228px;width:168px;height:168px" viewBox="0 0 956 956" role="img" aria-label="partner handshake"><g fill="none" stroke="#000" stroke-width="31" stroke-linejoin="round" stroke-linecap="round">
<circle cx="462" cy="130" r="83"/>
<path d="M310 335 Q345 235 462 222 Q582 235 616 335 Q545 400 462 400 Q380 400 310 335 Z"/>
<path d="M143 455 L236 480 L160 722 L64 694 Z"/>
<path d="M690 525 L782 500 L860 768 L766 792 Z"/>
<path d="M236 503 L370 498 Q430 478 470 478 Q505 478 560 508 Q625 540 690 545"/>
<path d="M362 512 L312 590 Q290 630 325 655 Q360 668 390 640 Q425 605 470 600 Q510 598 545 625 L680 730 Q700 750 690 770 Q670 800 640 795 Q630 830 595 838 Q560 840 545 825 Q540 860 510 868 Q470 875 445 850 Q450 890 415 900 Q385 905 350 880 Q240 810 180 712"/>
<path d="M398 806 L445 850"/>
<path d="M480 775 L545 825"/>
<path d="M560 745 L640 795"/>
<path d="M700 752 L745 745"/>
</g></svg><p class="g g-r10"><span class="t s" style="left:1477.97px;top:387.5px;font-size:29.6px;transform:scaleX(1.0145);">10 DB Baggs</span></p><p class="g g-rp"><span class="t s" style="left:1485.1px;top:422.75px;font-size:19.8px;transform:scaleX(1.1497);">regular retail price:</span><span class="t s" style="left:1486.25px;top:444.75px;font-size:19.8px;transform:scaleX(1.1180);">$38.88pc =$390</span><span class="t s" style="left:1484.34px;top:469.75px;font-size:19.8px;transform:scaleX(1.1572);">Shipment not included</span></p><div class="a" style="left:1743px;top:420px;width:132px;height:71.75px;background:#000"></div><p class="g g-rb"><span class="t s" style="left:1760.07px;top:417.25px;font-size:20.4px;transform:scaleX(1.1790);color:#fff;">minimum</span><span class="t s" style="left:1743.38px;top:443.75px;font-size:20.4px;transform:scaleX(1.1164);color:#fff;">market price:</span><span class="t s" style="left:1767.5px;top:468.75px;font-size:20.4px;transform:scaleX(1.1000);color:#fff;">$55-$75</span></p><div class="marks" aria-hidden="true"><span class="a dot" style="left:1475.10px;top:536.00px;width:11px;height:11px;border-radius:50%;background:#000"></span><span class="a dot" style="left:1475.10px;top:577.50px;width:11px;height:11px;border-radius:50%;background:#000"></span><span class="a dot" style="left:1475.10px;top:617.50px;width:11px;height:11px;border-radius:50%;background:#000"></span><span class="a dot" style="left:1475.10px;top:657.50px;width:11px;height:11px;border-radius:50%;background:#000"></span><span class="a dot" style="left:1475.10px;top:698.75px;width:11px;height:11px;border-radius:50%;background:#000"></span><svg class="xx" style="left:1485.25px;top:524.4px;width:28px;height:28px" viewBox="-14 -14 28 28"><path d="M-11.3 -11.5 L11.3 11.5 M11.3 -11.5 L-11.3 11.5" stroke="#dc1c24" stroke-width="6.6" fill="none"/></svg><svg class="xx" style="left:1485.4px;top:573.5px;width:28px;height:28px" viewBox="-14 -14 28 28"><path d="M-11.3 -11.5 L11.3 11.5 M11.3 -11.5 L-11.3 11.5" stroke="#dc1c24" stroke-width="6.6" fill="none"/></svg><svg class="xx" style="left:1485.4px;top:611.9px;width:28px;height:28px" viewBox="-14 -14 28 28"><path d="M-11.3 -11.5 L11.3 11.5 M11.3 -11.5 L-11.3 11.5" stroke="#dc1c24" stroke-width="6.6" fill="none"/></svg><svg class="xx" style="left:1481.4px;top:651.9px;width:28px;height:28px" viewBox="-14 -14 28 28"><path d="M-11.3 -11.5 L11.3 11.5 M11.3 -11.5 L-11.3 11.5" stroke="#dc1c24" stroke-width="6.6" fill="none"/></svg><svg class="ck" style="left:1485.6px;top:673.2px;width:43.7px;height:36.6px" viewBox="390 100 835 700"><path d="M390 505 L487 385 L605 555 Q800 260 1225 100 Q850 350 640 800 Z" fill="#18a928"/></svg></div><div class="list"><ul class="g g-rl"><li class="t s" style="left:1507.68px;top:525.75px;font-size:29.3px;transform:scaleX(1.1589);">Inhouse Affiliate program</li><li class="t s" style="left:1508.86px;top:566.25px;font-size:29.3px;transform:scaleX(1.1383);">inhouse leads</li><li class="t s" style="left:1508.89px;top:607px;font-size:29.3px;transform:scaleX(1.1126);">Scale bonuses</li><li class="t s" style="left:1507.74px;top:647.5px;font-size:29.3px;transform:scaleX(1.1306);">Free products</li><li class="t s" style="left:1510px;top:688.25px;font-size:29.3px;transform:scaleX(1.1656);">Vacation discounts</li></ul></div></article>
<footer><svg style="left:1036px;top:834px;width:134px;height:67px" viewBox="0 0 1912 956" role="img" aria-label="DB logo marks">
<g fill="#5dd6b6">
<path d="M470 420 Q310 440 180 405 Q120 350 140 270 Q165 235 200 225 Q215 180 240 160 Q275 115 320 105 Q385 115 420 165 Q455 240 465 330 Z"/>
<path d="M482 420 Q462 250 500 140 Q525 95 580 88 Q615 88 632 108 Q585 180 548 262 Q530 320 560 378 Q590 405 625 400 Q690 365 722 290 Q725 235 705 195 Q775 225 805 280 Q815 320 790 372 Q745 420 690 428 L590 432 Z"/>
<path d="M452 462 Q300 445 172 508 Q130 560 138 610 Q150 650 195 665 Q225 610 262 560 Q300 510 322 505 Q352 560 358 620 Q355 690 335 725 Q325 745 315 755 Q350 778 392 770 Q430 750 445 700 Q470 600 452 462 Z"/>
<path d="M560 440 Q700 425 790 480 Q832 540 820 590 Q805 628 745 640 Q745 700 692 750 Q650 770 610 755 Q575 725 562 650 Q548 540 560 440 Z"/>
<path d="M465 480 L512 480 Q522 720 612 872 L578 892 Q482 740 465 480 Z"/>
</g>
<path d="M480 535 Q385 470 385 420 Q395 365 450 372 L480 398 L510 372 Q565 365 575 420 Q575 470 480 535 Z" fill="#fff"/>
<path d="M640 480 Q600 560 640 600 Q560 640 600 740 Q650 700 640 650 Q700 690 690 740 Q740 640 690 600 Q700 540 640 480 Z" fill="#fff"/>
<path d="M640 600 Q625 660 650 700 Q675 660 640 600 Z" fill="#5dd6b6"/>
<g fill="none" stroke="#fff" stroke-width="12" stroke-linecap="round"><path d="M225 390 L330 295" stroke-width="26" stroke-dasharray="4 14"/><circle cx="290" cy="190" r="26"/><circle cx="225" cy="268" r="20"/><circle cx="385" cy="315" r="24"/><path d="M710 235 Q745 310 685 385"/><path d="M320 570 L262 682" stroke-width="16"/></g>
<g fill="#000">
<path d="M1370 108 L1420 165 Q1462 200 1452 262 Q1450 310 1425 330 H1315 Q1290 310 1288 262 Q1278 200 1320 165 Z"/>
<path d="M1312 325 H1428 V385 Q1500 395 1522 430 L1552 585 Q1545 612 1510 620 L1498 648 L1668 585 L1660 700 L1802 688 Q1700 800 1572 842 H1165 Q1040 800 940 688 L1082 700 L1072 585 L1242 648 L1230 620 Q1195 612 1188 585 L1218 430 Q1240 395 1312 385 Z"/>
</g>
<g fill="#fff"><path d="M1272 495 L1290 610 L1250 590 Z"/><path d="M1468 495 L1450 610 L1490 590 Z"/>
<circle cx="1370" cy="185" r="42"/><circle cx="1370" cy="285" r="42"/><circle cx="1370" cy="385" r="42"/><circle cx="1370" cy="485" r="42"/><circle cx="1370" cy="585" r="42"/><circle cx="1370" cy="685" r="42"/><circle cx="1370" cy="785" r="42"/></g>
</svg>
<p class="g g-dbD"><span class="t b" style="left:1041.65px;top:763.95px;font-size:81px;transform:scaleX(0.8865);-webkit-text-stroke:1.3px #000;">D</span></p><p class="g g-dbB"><span class="t b" style="left:1114.52px;top:763.95px;font-size:81px;transform:scaleX(0.7712);-webkit-text-stroke:1.3px #000;">B</span></p><div class="a" style="left:1250px;top:722px;width:413.75px;height:170.5px;background:#000;border-radius:30px"></div><svg style="left:1275px;top:715px;width:80px;height:80px" viewBox="0 0 956 956" role="img" aria-label="coins"><g fill="none" stroke="#fff" stroke-width="15" stroke-linejoin="round" stroke-linecap="round">
<ellipse cx="268" cy="350" rx="62" ry="146" transform="rotate(14 268 350)"/>
<path d="M300 205 Q375 215 368 330 Q350 470 270 495 Q235 495 215 470"/>
<path d="M322 258 L362 268 M318 330 L362 345 M300 400 L345 415 M278 455 L318 468"/>
<ellipse cx="612" cy="335" rx="160" ry="68" transform="rotate(28 612 335)"/>
<path d="M462 280 Q440 310 452 345 Q560 460 700 495 Q755 490 760 440"/>
<path d="M485 330 L470 370 M555 395 L540 430 M640 440 L628 478"/>
<ellipse cx="412" cy="685" rx="152" ry="92" transform="rotate(-42 412 685)"/>
<path d="M530 570 Q590 600 580 660 Q540 790 400 865 Q340 880 300 835"/>
<path d="M535 600 L575 625 M510 660 L555 700 M470 720 L515 765 M420 770 L460 815 M370 805 L400 855 M325 820 L345 850"/>
<path d="M688 92 Q695 160 742 172 Q695 185 688 255 Q680 185 635 172 Q680 160 688 92 Z"/>
<path d="M172 578 Q180 645 225 660 Q180 675 172 748 Q165 675 120 660 Q165 645 172 578 Z"/>
</g></svg>
<svg style="left:1575px;top:820px;width:90px;height:80px" viewBox="0 0 1076 956" role="img" aria-label="cash"><g fill="none" stroke="#fff" stroke-width="17" stroke-linejoin="round" stroke-linecap="round">
<path d="M325 148 L850 545 L650 795 L128 408 Z"/>
<circle cx="490" cy="475" r="108"/>
<path d="M538 418 Q500 400 478 440 Q475 465 500 478 Q520 500 500 525 Q470 545 442 520 M545 412 L438 535" stroke-width="14"/>
<path d="M282 190 Q330 230 375 192 M165 440 Q215 410 190 360 M610 760 Q650 720 700 750 M790 590 Q770 540 810 515" stroke-width="14"/>
<path d="M160 450 L125 570 L455 668 M165 590 Q195 560 178 520"/>
<path d="M160 600 V715 H485 M168 655 Q225 660 232 712"/>
<path d="M705 385 H820 L825 470 M820 465 L852 472 L840 540 M800 600 L820 715 H775 M700 755 L760 770 L800 640"/>
</g></svg>
<p class="g g-bl"><span class="t b" style="left:1359.85px;top:717.3px;font-size:45.5px;transform:scaleX(1.0774);color:#fff;-webkit-text-stroke:0.4px #fff;">buy low</span><span class="t b" style="left:1438.92px;top:778.5px;font-size:46.5px;transform:scaleX(1.0781);color:#fff;">&amp;</span><span class="t b" style="left:1334.1px;top:841.8px;font-size:45.5px;transform:scaleX(1.0770);color:#fff;-webkit-text-stroke:0.4px #fff;">resell high</span></p></footer>
</section>
</main>
</body>
</html>
